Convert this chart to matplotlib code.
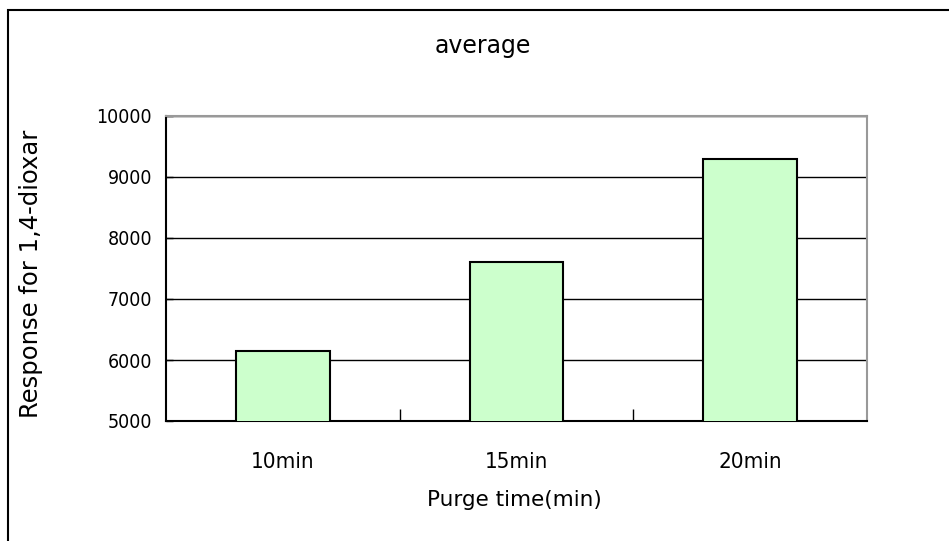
import matplotlib
matplotlib.use("Agg")
import matplotlib.pyplot as plt
from matplotlib.patches import Rectangle

# data
categories = ["10min", "15min", "20min"]
values = [6150, 7600, 9300]
yticks = [5000, 6000, 7000, 8000, 9000, 10000]

W, H = 949, 541
fig = plt.figure(figsize=(W / 100, H / 100), dpi=100)

# outer chart border (Excel style, runs off the right/bottom edge)
fig.patches.append(Rectangle((8 / W, -0.1), 1.1, 1 - 10 / H + 0.1,
                             transform=fig.transFigure, fill=False,
                             edgecolor="black", linewidth=1.5))

ax = fig.add_axes([166 / W, 1 - 421 / H, (867 - 166) / W, (421 - 116) / H])

x = range(len(categories))
ax.bar(x, values, width=0.4, bottom=0, color="#CCFFCC",
       edgecolor="black", linewidth=1.5, zorder=3)

ax.set_xlim(-0.5, 2.5)
ax.set_ylim(5000, 10000)
ax.set_yticks(yticks)
ax.yaxis.grid(True, color="black", linewidth=1, zorder=0)

ax.set_xticks(list(x))
ax.set_xticklabels(categories)
ax.set_xticks([0.5, 1.5], minor=True)
ax.tick_params(axis="x", which="major", length=0, pad=22)
ax.tick_params(axis="x", which="minor", direction="in", length=9, width=1)
ax.tick_params(axis="y", direction="in", length=5, width=1, pad=10)

for lab in ax.get_yticklabels():
    lab.set_family("DejaVu Sans")
    lab.set_stretch("condensed")
    lab.set_fontsize(14)
for lab in ax.get_xticklabels():
    lab.set_family("DejaVu Sans")
    lab.set_stretch("condensed")
    lab.set_fontsize(16)

for s in ["left", "bottom"]:
    ax.spines[s].set_color("black")
    ax.spines[s].set_linewidth(1.5)
for s in ["top", "right"]:
    ax.spines[s].set_color("#999999")
    ax.spines[s].set_linewidth(1.5)

fig.text(483 / W, 1 - 46 / H, "average", ha="center", va="center",
         fontsize=17, family="DejaVu Sans")
fig.text(514 / W, 1 - 500 / H, "Purge time(min)", ha="center", va="center",
         fontsize=15.5, family="DejaVu Sans")
fig.text(31 / W, 1 - 418 / H, "Response for 1,4-dioxar", rotation=90,
         ha="center", va="bottom", fontsize=17.5, family="DejaVu Sans")

fig.savefig("out.png", dpi=100)
